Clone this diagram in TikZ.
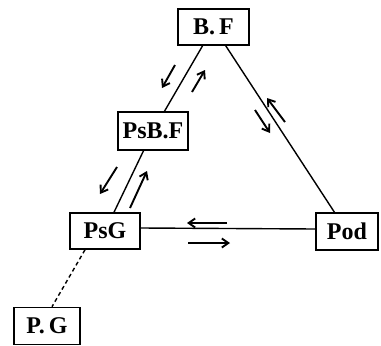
\documentclass[tikz,border=0pt]{standalone}
\usepackage{fontspec}
\setmainfont{Liberation Serif}
\usetikzlibrary{arrows.meta}
\begin{document}
\begin{tikzpicture}[x=1pt,y=-1pt,
  box/.style={draw,line width=1.6pt,inner sep=0pt,font=\fontsize{24}{28}\selectfont\bfseries},
  link/.style={line width=1.4pt},
  flow/.style={line width=1.9pt,-{Straight Barb[length=6.5pt,width=9pt,line width=1.9pt]}}]
\useasboundingbox (0,0) rectangle (381,346);
\node[box,minimum width=71pt,minimum height=36pt] (BF) at (213.5,27) {B.\,F};
\node[box,minimum width=70pt,minimum height=38pt] (PsBF) at (153,131) {PsB.F};
\node[box,minimum width=70pt,minimum height=36pt] (PsG) at (105,231) {PsG};
\node[box,minimum width=62pt,minimum height=37pt] (Pod) at (347,231.5) {Pod};
\node[box,minimum width=66pt,minimum height=37pt] (PG) at (47,326) {P.\,G};
\draw[link] (BF) -- (PsBF);
\draw[link] (PsBF) -- (PsG);
\draw[link] (BF) -- (Pod);
\draw[link] ([yshift=3pt]PsG.east) -- ([yshift=2.5pt]Pod.west);
\draw[link,dashed,dash pattern=on 4pt off 3pt] ([xshift=-20pt]PsG.south) -- ([xshift=5pt]PG.north);
% arrows
\draw[flow] (175,65) -- (162,88);
\draw[flow] (192,92) -- (205,70);
\draw[flow] (117,167) -- (100,194);
\draw[flow] (130,208) -- (147,171);
\draw[flow] (285,122) -- (267,98);
\draw[flow] (255,110) -- (270,133);
\draw[flow] (227,223) -- (187,223);
\draw[flow] (188,243) -- (230,243);
\end{tikzpicture}
\end{document}
